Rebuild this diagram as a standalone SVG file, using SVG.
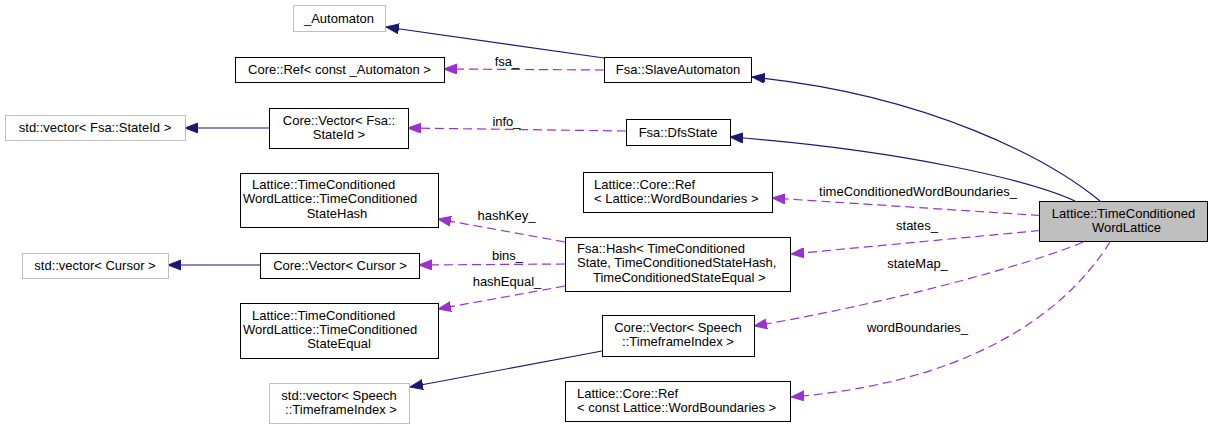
<svg xmlns="http://www.w3.org/2000/svg" width="1212" height="429" viewBox="0 0 1212 429">
<style>
text{font-family:"Liberation Sans",Arial,sans-serif;font-size:13px;fill:#000}
.c{text-anchor:middle}
.n{fill:#fff;stroke:#000;stroke-width:1}
.g{fill:#fff;stroke:#bfbfbf;stroke-width:1}
.m{fill:#bfbfbf;stroke:#000;stroke-width:1}
.inh{fill:none;stroke:#191970;stroke-width:1.2;marker-end:url(#an)}
.use{fill:none;stroke:#9a32cd;stroke-width:1.2;stroke-dasharray:9,5;marker-end:url(#ap)}
</style>
<defs>
<marker id="an" markerUnits="userSpaceOnUse" markerWidth="14" markerHeight="11" refX="13" refY="5" orient="auto"><path d="M0,0 L13,5 L0,10 z" fill="#191970" stroke="#191970" stroke-dasharray="none"/></marker>
<marker id="ap" markerUnits="userSpaceOnUse" markerWidth="14" markerHeight="11" refX="13" refY="5" orient="auto"><path d="M0,0 L13,5 L0,10 z" fill="#9a32cd" stroke="#9a32cd" stroke-dasharray="none"/></marker>
</defs>
<g id="connectors">
<path class="inh" d="M604,58 L386,27"/>
<path class="inh" d="M1100,201 C1050,160 930,95 752,77"/>
<path class="inh" d="M1075,201 C1030,180 900,150 730,137"/>
<path class="use" d="M604,70 L444,69"/>
<path class="use" d="M626,131 L408,128"/>
<path class="inh" d="M269,128 L185,128"/>
<path class="inh" d="M260,265 L168,265"/>
<path class="inh" d="M602,351 L410,387"/>
<path class="use" d="M565,242 L438,219"/>
<path class="use" d="M565,264 L419,265"/>
<path class="use" d="M565,286 L438,309"/>
<path class="use" d="M1040,215.5 L772,198"/>
<path class="use" d="M1040,230.5 L791,254"/>
<path class="use" d="M1083,242 C1030,265 880,305 754,326"/>
<path class="use" d="M1110,242 C1080,290 1000,380 791,397"/>
<text class="c" x="507" y="66">fsa_</text>
<text class="c" x="506.5" y="126">info_</text>
<text class="c" x="506.5" y="220">hashKey_</text>
<text class="c" x="507.5" y="260">bins_</text>
<text class="c" x="507" y="286">hashEqual_</text>
<text class="c" x="918" y="195.5">timeConditionedWordBoundaries_</text>
<text class="c" x="917" y="229.5">states_</text>
<text class="c" x="917.5" y="267.5">stateMap_</text>
<text class="c" x="917.5" y="331.5">wordBoundaries_</text>
</g>
<g id="node_tcwl"><rect class="m" x="1039.5" y="201.5" width="168" height="40"/><text class="c" x="1123.5" y="217.5">Lattice::TimeConditioned</text><text class="c" x="1126.5" y="232">WordLattice</text></g>
<g id="node_automaton"><rect class="g" x="293.5" y="5.5" width="92" height="26"/><text class="c" x="339" y="22.5">_Automaton</text></g>
<g id="node_ref_automaton"><rect class="n" x="235.5" y="57.5" width="209" height="25"/><text class="c" x="339.5" y="74">Core::Ref&lt; const _Automaton &gt;</text></g>
<g id="node_slave"><rect class="n" x="604.5" y="57.5" width="147" height="25"/><text class="c" x="678" y="74">Fsa::SlaveAutomaton</text></g>
<g id="node_stdvec_stateid"><rect class="g" x="5.5" y="115.5" width="180" height="25"/><text class="c" x="95" y="132">std::vector&lt; Fsa::StateId &gt;</text></g>
<g id="node_corevec_stateid"><rect class="n" x="269.5" y="108.5" width="139" height="40"/><text class="c" x="339" y="124.5">Core::Vector&lt; Fsa::</text><text class="c" x="339" y="139">StateId &gt;</text></g>
<g id="node_dfsstate"><rect class="n" x="626.5" y="119.5" width="104" height="26"/><text class="c" x="678" y="137">Fsa::DfsState</text></g>
<g id="node_statehash"><rect class="n" x="240.5" y="173.5" width="198" height="54"/><text x="252" y="189">Lattice::TimeConditioned</text><text x="243" y="203">WordLattice::TimeConditioned</text><text class="c" x="337" y="217.5">StateHash</text></g>
<g id="node_stdvec_cursor"><rect class="g" x="22.5" y="253.5" width="146" height="25"/><text class="c" x="95" y="270">std::vector&lt; Cursor &gt;</text></g>
<g id="node_corevec_cursor"><rect class="n" x="260.5" y="253.5" width="159" height="25"/><text class="c" x="340" y="270">Core::Vector&lt; Cursor &gt;</text></g>
<g id="node_stateequal"><rect class="n" x="240.5" y="303.5" width="198" height="55"/><text x="252" y="319.5">Lattice::TimeConditioned</text><text x="243" y="333.5">WordLattice::TimeConditioned</text><text class="c" x="339" y="348">StateEqual</text></g>
<g id="node_stdvec_speech"><rect class="g" x="269.5" y="383.5" width="140" height="40"/><text class="c" x="339" y="399.5">std::vector&lt; Speech</text><text class="c" x="341" y="414">::TimeframeIndex &gt;</text></g>
<g id="node_ref_wb"><rect class="n" x="583.5" y="172.5" width="189" height="40"/><text x="594" y="188.5">Lattice::Core::Ref</text><text x="594" y="203">&lt; Lattice::WordBoundaries &gt;</text></g>
<g id="node_hash"><rect class="n" x="565.5" y="237.5" width="225" height="54"/><text x="577" y="253">Fsa::Hash&lt; TimeConditioned</text><text x="577" y="267">State, TimeConditionedStateHash,</text><text x="593" y="281.5">TimeConditionedStateEqual &gt;</text></g>
<g id="node_corevec_speech"><rect class="n" x="602.5" y="315.5" width="152" height="41"/><text class="c" x="678" y="331.5">Core::Vector&lt; Speech</text><text class="c" x="678" y="346">::TimeframeIndex &gt;</text></g>
<g id="node_ref_const_wb"><rect class="n" x="565.5" y="381.5" width="225" height="40"/><text x="577" y="397.5">Lattice::Core::Ref</text><text x="577" y="412">&lt; const Lattice::WordBoundaries &gt;</text></g>
</svg>
